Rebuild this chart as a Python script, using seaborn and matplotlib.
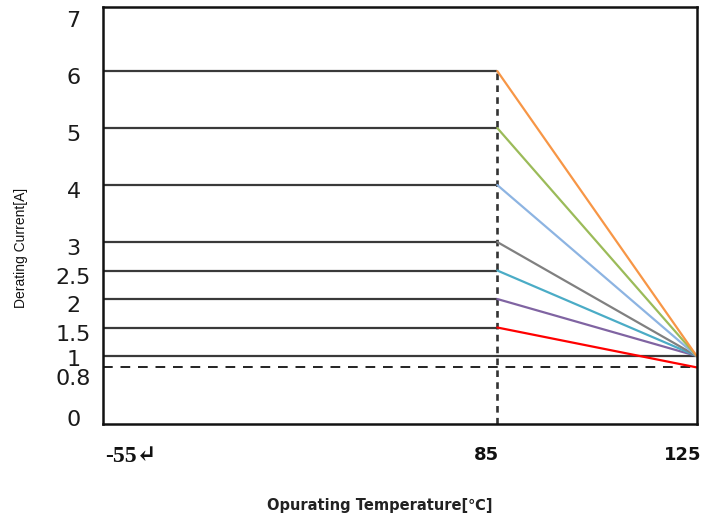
import numpy as np
import pandas as pd
import matplotlib
matplotlib.use('Agg')
import matplotlib.pyplot as plt
import matplotlib.transforms as mtransforms
import seaborn as sns

# derating curves: rated current flat up to the knee, then ramping down to 125C
ratings = [1.5, 2, 2.5, 3, 4, 5, 6]
end_currents = [0.8, 1, 1, 1, 1, 1, 1]
line_colors = ['#ff0000', '#8064a2', '#4bacc6', '#808080', '#8db4e2', '#9bbb59', '#f79646']
knee_temp = 85
max_temp = 125
min_temp = -55
floor_current = 1
min_current = 0.8

ytick_values = [0, 0.8, 1, 1.5, 2, 2.5, 3, 4, 5, 6, 7]
ytick_labels = ['0', '0.8', '1', '1.5', '2', '2.5', '3', '4', '5', '6', '7']
xtick_values = [min_temp, knee_temp, max_temp]
xtick_labels = ['-55\u21b5', '85', '125']

sns.set_style('white')

# axis ranges (layout only)
x_left = -70.35
y_lim = (-0.193, 7.118)


# temperature axis is not linear: the span above the knee is stretched
def fwd(x):
    x = np.asarray(x, dtype=float)
    return np.where(x <= knee_temp, (x - knee_temp) * 2.54, (x - knee_temp) * 4.985)


def inv(y):
    y = np.asarray(y, dtype=float)
    return np.where(y <= 0, y / 2.54 + knee_temp, y / 4.985 + knee_temp)


fig = plt.figure(figsize=(7.17, 5.23), dpi=100)
ax = fig.add_axes([0.1432, 0.1893, 0.8285, 0.7967])

# flat part of every curve
ax.hlines(ratings, x_left, knee_temp, colors='#3a3a3a', linewidth=1.6)
ax.hlines(floor_current, x_left, max_temp, colors='#3a3a3a', linewidth=1.6)
ax.hlines(min_current, x_left, max_temp, colors='#222222', linewidth=1.4,
          linestyles=(0, (5, 4)))
ax.vlines(knee_temp, y_lim[0], max(ratings), colors='#333333', linewidth=1.9,
          linestyles=(0, (2.5, 2)))

# sloped part
rows = []
for r, e in zip(ratings, end_currents):
    rows.append({'temp': knee_temp, 'current': r, 'rating': r})
    rows.append({'temp': max_temp, 'current': e, 'rating': r})
ramp = pd.DataFrame(rows)
sns.lineplot(data=ramp, x='temp', y='current', hue='rating',
             palette=dict(zip(ratings, line_colors)), hue_order=ratings,
             estimator=None, linewidth=1.6, legend=False, ax=ax)

ax.set_xscale('function', functions=(fwd, inv))
ax.set_xlim(x_left, max_temp)
ax.set_ylim(*y_lim)

ax.set_yticks(ytick_values)
ax.set_yticklabels(ytick_labels)
ax.set_xticks(xtick_values)
ax.set_xticklabels(xtick_labels)

ax.tick_params(axis='y', length=0, pad=21, labelsize=16, labelcolor='#1a1a1a')
ax.tick_params(axis='x', length=0, pad=16, labelcolor='#111111')

# labels sit a little below their lines; 0.8 and 1 are pushed apart
for lab in ax.get_yticklabels():
    shift = -0.05
    if lab.get_text() == '0.8':
        shift = -0.10
    elif lab.get_text() == '1':
        shift = -0.02
    lab.set_horizontalalignment('center')
    lab.set_fontfamily(['DejaVu Sans'])
    lab.set_transform(lab.get_transform() +
                      mtransforms.ScaledTranslation(0, shift, fig.dpi_scale_trans))

xl = ax.get_xticklabels()
for i, lab in enumerate(xl):
    dx = -0.14 if i == 2 else -0.11
    lab.set_transform(lab.get_transform() +
                      mtransforms.ScaledTranslation(dx, 0, fig.dpi_scale_trans))
    lab.set_fontweight('bold')
    if i == 0:
        lab.set_fontfamily(['Liberation Serif', 'DejaVu Serif', 'DejaVu Sans'])
        lab.set_fontsize(17)
    else:
        lab.set_fontfamily(['DejaVu Sans'])
        lab.set_fontsize(13)

for sp in ax.spines.values():
    sp.set_visible(True)
    sp.set_color('#111111')
    sp.set_linewidth(1.8)

ax.set_xlabel('Opurating Temperature[\u2103]', fontsize=10.5, fontweight='bold',
              fontfamily=['DejaVu Sans'], color='#222222')
ax.set_ylabel('Derating Current[A]', fontsize=10, fontfamily=['Liberation Sans', 'DejaVu Sans'],
              color='#111111')
ax.xaxis.set_label_coords(0.467, -0.178)
ax.yaxis.set_label_coords(-0.126, 0.422)

fig.savefig('out.png', dpi=100)
